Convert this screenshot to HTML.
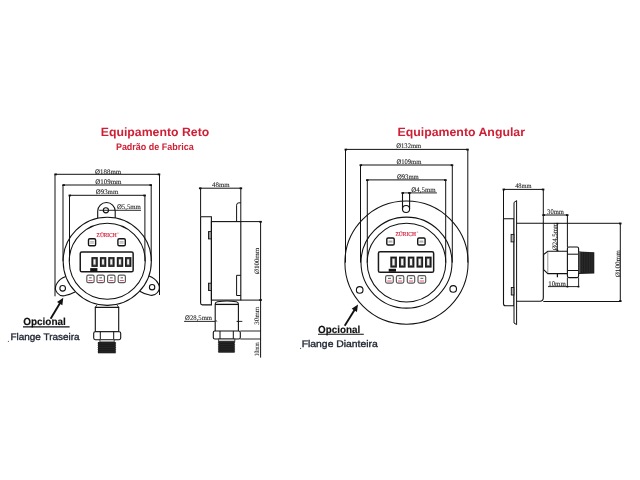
<!DOCTYPE html>
<html><head><meta charset="utf-8"><style>
html,body{margin:0;padding:0;background:#fff;}
svg{display:block;will-change:transform;text-rendering:geometricPrecision;filter:blur(0.25px);}
</style></head><body>
<svg width="640" height="480" viewBox="0 0 640 480">
<rect width="640" height="480" fill="#fff"/>
<text x="100.75" y="136" font-family="'Liberation Sans', sans-serif" font-size="12" fill="#cf1f35" font-weight="bold" text-anchor="start" textLength="108.5" lengthAdjust="spacingAndGlyphs" >Equipamento Reto</text>
<text x="115.9" y="150.4" font-family="'Liberation Sans', sans-serif" font-size="9.6" fill="#cf1f35" font-weight="bold" text-anchor="start" textLength="77.8" lengthAdjust="spacingAndGlyphs" >Padrão de Fabrica</text>
<text x="397.5" y="136.25" font-family="'Liberation Sans', sans-serif" font-size="12" fill="#cf1f35" font-weight="bold" text-anchor="start" textLength="127.5" lengthAdjust="spacingAndGlyphs" >Equipamento Angular</text>
<text x="23.2" y="324.9" font-family="'Liberation Sans', sans-serif" font-size="10.3" fill="#111" font-weight="bold" text-anchor="start" textLength="42.6" lengthAdjust="spacingAndGlyphs" stroke="#111" stroke-width="0.15">Opcional</text>
<line x1="23" y1="326.9" x2="69.6" y2="326.9" stroke="#111" stroke-width="1.1"/>
<text x="10.5" y="339.9" font-family="'Liberation Sans', sans-serif" font-size="9.6" fill="#1f2433" font-weight="normal" text-anchor="start" textLength="69" lengthAdjust="spacingAndGlyphs" stroke="#1f2433" stroke-width="0.35">Flange Traseira</text>
<text x="318.1" y="332.8" font-family="'Liberation Sans', sans-serif" font-size="10.3" fill="#111" font-weight="bold" text-anchor="start" textLength="42.2" lengthAdjust="spacingAndGlyphs" stroke="#111" stroke-width="0.15">Opcional</text>
<line x1="318" y1="334.2" x2="363.8" y2="334.2" stroke="#111" stroke-width="1.1"/>
<text x="301.7" y="346.9" font-family="'Liberation Sans', sans-serif" font-size="9.6" fill="#1f2433" font-weight="normal" text-anchor="start" textLength="76.1" lengthAdjust="spacingAndGlyphs" stroke="#1f2433" stroke-width="0.35">Flange Dianteira</text>
<circle cx="8.4" cy="341.3" r="0.6" fill="#555"/>
<circle cx="300.6" cy="348.4" r="0.6" fill="#555"/>
<line x1="50.6" y1="318.8" x2="60.20586278935174" y2="302.8406531609983" stroke="#111" stroke-width="1.9"/>
<path d="M63.30 297.70 L62.35 305.30 L57.03 302.10 Z" fill="#111"/>
<line x1="344.7" y1="325.8" x2="354.83285950356554" y2="309.4960004980224" stroke="#111" stroke-width="1.9"/>
<path d="M358.00 304.40 L356.94 311.98 L351.67 308.71 Z" fill="#111"/>
<line x1="55.0" y1="174.3" x2="159.5" y2="174.3" stroke="#111" stroke-width="1"/>
<line x1="55.0" y1="174.3" x2="55.0" y2="296.3" stroke="#111" stroke-width="1"/>
<line x1="159.5" y1="174.2" x2="159.5" y2="295.0" stroke="#111" stroke-width="1"/>
<rect x="54.34" y="173.5" width="2.52" height="1.8" fill="#111"/>
<rect x="157.74" y="173.5" width="2.52" height="1.8" fill="#111"/>
<line x1="63.0" y1="185.0" x2="151.2" y2="185.0" stroke="#111" stroke-width="1"/>
<line x1="63.0" y1="185.0" x2="63.0" y2="261.3" stroke="#111" stroke-width="1"/>
<line x1="151.2" y1="185.0" x2="151.2" y2="261.3" stroke="#111" stroke-width="1"/>
<rect x="62.34" y="184.2" width="2.52" height="1.8" fill="#111"/>
<rect x="149.44" y="184.2" width="2.52" height="1.8" fill="#111"/>
<line x1="69.5" y1="195.3" x2="144.9" y2="195.3" stroke="#111" stroke-width="1"/>
<line x1="69.5" y1="195.3" x2="69.5" y2="261.3" stroke="#111" stroke-width="1"/>
<line x1="144.9" y1="195.3" x2="144.9" y2="261.3" stroke="#111" stroke-width="1"/>
<rect x="68.53999999999999" y="194.6" width="2.52" height="1.8" fill="#111"/>
<rect x="143.34" y="194.6" width="2.52" height="1.8" fill="#111"/>
<text x="95.1" y="173.6" font-family="'Liberation Serif', serif" font-size="6.9959999999999996" fill="#222" font-weight="normal" text-anchor="start" textLength="26" lengthAdjust="spacingAndGlyphs"  stroke="#222" stroke-width="0.08">Ø188mm</text>
<text x="95.3" y="183.9" font-family="'Liberation Serif', serif" font-size="6.9959999999999996" fill="#222" font-weight="normal" text-anchor="start" textLength="26.2" lengthAdjust="spacingAndGlyphs"  stroke="#222" stroke-width="0.08">Ø109mm</text>
<text x="95.8" y="194.2" font-family="'Liberation Serif', serif" font-size="6.9959999999999996" fill="#222" font-weight="normal" text-anchor="start" textLength="22.5" lengthAdjust="spacingAndGlyphs"  stroke="#222" stroke-width="0.08">Ø93mm</text>
<text x="116.9" y="209.4" font-family="'Liberation Serif', serif" font-size="6.9959999999999996" fill="#222" font-weight="normal" text-anchor="start" textLength="24" lengthAdjust="spacingAndGlyphs"  stroke="#222" stroke-width="0.08">Ø5,5mm</text>
<line x1="99.2" y1="210.3" x2="141" y2="210.3" stroke="#111" stroke-width="0.9"/>
<path d="M97.7 218.25 L97.7 211.3 A8.75 8.75 0 0 1 115.2 211.3 L115.2 217.92" stroke="#111" stroke-width="1.1" fill="none" />
<circle cx="105.9" cy="210.3" r="2.6" stroke="#111" stroke-width="1.1" fill="none"/>
<circle cx="107.25" cy="261.3" r="44.1" stroke="#111" stroke-width="1.05" fill="none"/>
<circle cx="107.25" cy="261.3" r="38.0" stroke="#111" stroke-width="1.05" fill="none"/>
<path d="M65.8 276.5 Q59.5 278.5 56.55 284.1 A7.8 7.8 0 0 0 65.97 295.33 Q70.5 294.2 75.0 291.9" stroke="#111" stroke-width="1.1" fill="none" />
<circle cx="62.67" cy="288.3" r="2.8" stroke="#111" stroke-width="1.1" fill="none"/>
<path d="M149.0 276.1 Q155 278 158.25 283.6 A7.8 7.8 0 0 1 148.83 294.83 Q144 293.8 139.8 291.2" stroke="#111" stroke-width="1.1" fill="none" />
<circle cx="152.1" cy="287.2" r="2.7" stroke="#111" stroke-width="1.1" fill="none"/>
<text x="96.6" y="236.9" font-family="'Liberation Serif', serif" font-size="6.0" fill="#d42a48" font-weight="normal" text-anchor="start" textLength="20.0" lengthAdjust="spacingAndGlyphs" stroke="#d42a48" stroke-width="0.2">ZÜRICH</text>
<text x="116.89999999999999" y="234.3" font-family="'Liberation Serif', serif" font-size="3.0" fill="#d42a48" font-weight="normal" text-anchor="start" >®</text>
<rect x="88.5" y="238.79999999999998" width="7.1" height="6.900000000000011" rx="1.3" stroke="#151515" stroke-width="1.4" fill="#fff"/>
<rect x="90.2" y="241.42" width="3.7" height="1.0" fill="#8a8a8a"/>
<rect x="90.0" y="243.246" width="4.1" height="0.5" fill="#999"/>
<rect x="117.9" y="238.79999999999998" width="7.399999999999997" height="6.900000000000011" rx="1.3" stroke="#151515" stroke-width="1.4" fill="#fff"/>
<rect x="119.60000000000001" y="241.42" width="3.9999999999999973" height="1.0" fill="#8a8a8a"/>
<rect x="119.4" y="243.246" width="4.399999999999997" height="0.5" fill="#999"/>
<rect x="80.25" y="251.95" width="52.900000000000006" height="19.900000000000034" rx="1.6" stroke="#1a1a1a" stroke-width="1.5" fill="#fff"/>
<rect x="91.4" y="257.1" width="6.4" height="9.799999999999955" fill="#1c1c1c"/>
<rect x="93.0" y="258.6" width="3.2" height="6.7999999999999545" fill="#6a6a6a"/>
<rect x="93.60000000000001" y="259.40000000000003" width="1.8000000000000007" height="4.999999999999955" fill="#f4f4f4"/>
<rect x="99.9" y="257.1" width="6.4" height="9.799999999999955" fill="#1c1c1c"/>
<rect x="101.5" y="258.6" width="3.2" height="6.7999999999999545" fill="#6a6a6a"/>
<rect x="102.10000000000001" y="259.40000000000003" width="1.8000000000000007" height="4.999999999999955" fill="#f4f4f4"/>
<rect x="108.2" y="257.1" width="6.4" height="9.799999999999955" fill="#1c1c1c"/>
<rect x="109.8" y="258.6" width="3.2" height="6.7999999999999545" fill="#6a6a6a"/>
<rect x="110.4" y="259.40000000000003" width="1.8000000000000007" height="4.999999999999955" fill="#f4f4f4"/>
<rect x="116.8" y="257.1" width="6.4" height="9.799999999999955" fill="#1c1c1c"/>
<rect x="118.39999999999999" y="258.6" width="3.2" height="6.7999999999999545" fill="#6a6a6a"/>
<rect x="119.0" y="259.40000000000003" width="1.8000000000000007" height="4.999999999999955" fill="#f4f4f4"/>
<rect x="125.0" y="257.1" width="6.4" height="9.799999999999955" fill="#1c1c1c"/>
<rect x="126.6" y="258.6" width="3.2" height="6.7999999999999545" fill="#6a6a6a"/>
<rect x="127.2" y="259.40000000000003" width="1.8000000000000007" height="4.999999999999955" fill="#f4f4f4"/>
<rect x="90.2" y="268.1" width="7.200000000000003" height="3.5" fill="#111"/>
<rect x="86.8" y="275.20000000000005" width="7.3" height="7.4999999999999885" rx="1.5" stroke="#5a5a5a" stroke-width="1.2" fill="#fff"/>
<rect x="89.2" y="277.384" width="2.5" height="0.9" fill="#444"/>
<rect x="88.4" y="280.168" width="4.1" height="0.8" fill="#e0304f"/>
<rect x="97.0" y="275.20000000000005" width="7.399999999999994" height="7.4999999999999885" rx="1.5" stroke="#5a5a5a" stroke-width="1.2" fill="#fff"/>
<rect x="99.4" y="277.384" width="2.5999999999999943" height="0.9" fill="#444"/>
<rect x="98.60000000000001" y="280.168" width="4.199999999999994" height="0.8" fill="#e0304f"/>
<rect x="107.6" y="275.20000000000005" width="7.399999999999994" height="7.4999999999999885" rx="1.5" stroke="#5a5a5a" stroke-width="1.2" fill="#fff"/>
<rect x="110.0" y="277.384" width="2.5999999999999943" height="0.9" fill="#444"/>
<rect x="109.2" y="280.168" width="4.199999999999994" height="0.8" fill="#e0304f"/>
<rect x="118.19999999999999" y="275.20000000000005" width="7.2000000000000055" height="7.4999999999999885" rx="1.5" stroke="#5a5a5a" stroke-width="1.2" fill="#fff"/>
<rect x="120.6" y="277.384" width="2.4000000000000057" height="0.9" fill="#444"/>
<rect x="119.8" y="280.168" width="4.000000000000005" height="0.8" fill="#e0304f"/>
<path d="M96.8 305.2 L95.3 307.4 L118.7 307.4 L117.2 305.2" stroke="#111" stroke-width="1.0" fill="none" />
<rect x="95.3" y="307.4" width="23.4" height="24.3" rx="0" stroke="#111" stroke-width="1.1" fill="#fff"/>
<rect x="93.7" y="331.7" width="27" height="8" rx="1.6" stroke="#111" stroke-width="1.1" fill="#fff"/>
<line x1="100.3" y1="331.7" x2="100.3" y2="339.7" stroke="#111" stroke-width="1"/>
<line x1="113.7" y1="331.7" x2="113.7" y2="339.7" stroke="#111" stroke-width="1"/>
<rect x="99.9" y="339.7" width="14.3" height="2.3" rx="0" stroke="#333" stroke-width="0.9" fill="#e8e8e8"/>
<rect x="98" y="342" width="17.7" height="11.3" fill="#1b1b1b"/>
<line x1="97.6" y1="343.1" x2="116.1" y2="343.1" stroke="#2a2a2a" stroke-width="0.8"/>
<line x1="97.6" y1="345.3" x2="116.1" y2="345.3" stroke="#2a2a2a" stroke-width="0.8"/>
<line x1="97.6" y1="347.5" x2="116.1" y2="347.5" stroke="#2a2a2a" stroke-width="0.8"/>
<line x1="97.6" y1="349.70000000000005" x2="116.1" y2="349.70000000000005" stroke="#2a2a2a" stroke-width="0.8"/>
<line x1="97.6" y1="351.90000000000003" x2="116.1" y2="351.90000000000003" stroke="#2a2a2a" stroke-width="0.8"/>
<line x1="199.9" y1="188.2" x2="241.3" y2="188.2" stroke="#111" stroke-width="1"/>
<rect x="198.94" y="187.4" width="2.52" height="1.8" fill="#111"/>
<rect x="239.64000000000001" y="187.4" width="2.52" height="1.8" fill="#111"/>
<text x="220.8" y="186.9" font-family="'Liberation Serif', serif" font-size="6.9959999999999996" fill="#222" font-weight="normal" text-anchor="middle" textLength="17.5" lengthAdjust="spacingAndGlyphs"  stroke="#222" stroke-width="0.08">48mm</text>
<line x1="200.6" y1="188.2" x2="200.6" y2="216.5" stroke="#111" stroke-width="1"/>
<path d="M200.6 216.7 L211.4 216.7 L211.4 304.9 L202.4 304.9 Q200.6 304.9 200.6 303.1 Z" stroke="#111" stroke-width="1.1" fill="none" />
<rect x="211.4" y="221.6" width="29.4" height="78.5" rx="0" stroke="#111" stroke-width="1.1" fill="none"/>
<line x1="240.8" y1="188.2" x2="240.8" y2="221.6" stroke="#111" stroke-width="1"/>
<path d="M236.6 221.6 L236.6 205.2 Q236.6 202.8 238.9 202.8 L240.8 202.8" stroke="#111" stroke-width="1.0" fill="none" />
<path d="M240.8 275.3 L236.6 275.3 L236.6 295.5 L240.8 295.5" stroke="#111" stroke-width="1.0" fill="none" />
<rect x="208.5" y="231.6" width="2.9" height="7.3" rx="0" stroke="#111" stroke-width="0.9" fill="#999"/>
<rect x="208.5" y="283.2" width="2.9" height="7.3" rx="0" stroke="#111" stroke-width="0.9" fill="#999"/>
<line x1="240.8" y1="221.6" x2="261" y2="221.6" stroke="#111" stroke-width="1"/>
<line x1="240.8" y1="300.1" x2="261" y2="300.1" stroke="#111" stroke-width="1"/>
<line x1="260.6" y1="221.6" x2="260.6" y2="357.6" stroke="#111" stroke-width="1"/>
<rect x="259.34000000000003" y="220.9" width="2.52" height="1.8" fill="#111"/>
<rect x="259.34000000000003" y="299.1" width="2.52" height="1.8" fill="#111"/>
<text x="259.3" y="274.1" font-family="'Liberation Serif', serif" font-size="6.784000000000001" fill="#222" font-weight="normal" text-anchor="start" textLength="26.3" lengthAdjust="spacingAndGlyphs" transform="rotate(-90 259.3 274.1)"  stroke="#222" stroke-width="0.08">Ø100mm</text>
<path d="M215.2 331 L215.2 304 Q215.2 302.3 217.5 301.8 Q227 300.2 236.3 301.8 Q238.4 302.3 238.4 304 L238.4 331" stroke="#111" stroke-width="1.1" fill="#fff" />
<line x1="215.2" y1="304.4" x2="238.4" y2="304.4" stroke="#111" stroke-width="1.3"/>
<rect x="213.3" y="331" width="27" height="8" rx="1.6" stroke="#111" stroke-width="1.1" fill="#fff"/>
<line x1="220.0" y1="331" x2="220.0" y2="339" stroke="#111" stroke-width="1"/>
<line x1="233.3" y1="331" x2="233.3" y2="339" stroke="#111" stroke-width="1"/>
<rect x="218.6" y="339" width="16.2" height="2.3" rx="0" stroke="#333" stroke-width="0.9" fill="#e8e8e8"/>
<rect x="218.3" y="341.3" width="16.4" height="11.4" fill="#1b1b1b"/>
<line x1="217.9" y1="342.4" x2="235.1" y2="342.4" stroke="#2a2a2a" stroke-width="0.8"/>
<line x1="217.9" y1="344.59999999999997" x2="235.1" y2="344.59999999999997" stroke="#2a2a2a" stroke-width="0.8"/>
<line x1="217.9" y1="346.79999999999995" x2="235.1" y2="346.79999999999995" stroke="#2a2a2a" stroke-width="0.8"/>
<line x1="217.9" y1="349.0" x2="235.1" y2="349.0" stroke="#2a2a2a" stroke-width="0.8"/>
<line x1="217.9" y1="351.2" x2="235.1" y2="351.2" stroke="#2a2a2a" stroke-width="0.8"/>
<line x1="184.1" y1="321.4" x2="215.2" y2="321.4" stroke="#111" stroke-width="0.9"/>
<line x1="238.4" y1="321.4" x2="242.3" y2="321.4" stroke="#111" stroke-width="0.9"/>
<line x1="215.6" y1="320.4" x2="217.2" y2="321.4" stroke="#111" stroke-width="0.8"/>
<line x1="238" y1="321.4" x2="236.6" y2="321.4" stroke="#111" stroke-width="1.0"/>
<text x="185.1" y="319.7" font-family="'Liberation Serif', serif" font-size="6.9959999999999996" fill="#222" font-weight="normal" text-anchor="start" textLength="27" lengthAdjust="spacingAndGlyphs"  stroke="#222" stroke-width="0.08">Ø28,5mm</text>
<line x1="240.3" y1="331" x2="261" y2="331" stroke="#111" stroke-width="0.9"/>
<line x1="240.3" y1="339" x2="261" y2="339" stroke="#111" stroke-width="0.9"/>
<text x="259.1" y="324.8" font-family="'Liberation Serif', serif" font-size="6.784000000000001" fill="#222" font-weight="normal" text-anchor="start" textLength="18.2" lengthAdjust="spacingAndGlyphs" transform="rotate(-90 259.1 324.8)"  stroke="#222" stroke-width="0.08">30mm</text>
<text x="259.1" y="356.2" font-family="'Liberation Serif', serif" font-size="6.784000000000001" fill="#222" font-weight="normal" text-anchor="start" textLength="13.9" lengthAdjust="spacingAndGlyphs" transform="rotate(-90 259.1 356.2)"  stroke="#222" stroke-width="0.08">10mm</text>
<line x1="345.5" y1="149.4" x2="467.8" y2="149.4" stroke="#111" stroke-width="1"/>
<line x1="345.5" y1="149.4" x2="345.5" y2="262.6" stroke="#111" stroke-width="1"/>
<line x1="467.8" y1="149.4" x2="467.8" y2="262.6" stroke="#111" stroke-width="1"/>
<rect x="344.54" y="148.7" width="2.52" height="1.8" fill="#111"/>
<rect x="466.24" y="148.7" width="2.52" height="1.8" fill="#111"/>
<line x1="360.5" y1="165" x2="452.3" y2="165" stroke="#111" stroke-width="1"/>
<line x1="360.5" y1="165" x2="360.5" y2="262.6" stroke="#111" stroke-width="1"/>
<line x1="452.3" y1="165" x2="452.3" y2="262.6" stroke="#111" stroke-width="1"/>
<rect x="359.54" y="164.29999999999998" width="2.52" height="1.8" fill="#111"/>
<rect x="450.74" y="164.29999999999998" width="2.52" height="1.8" fill="#111"/>
<line x1="367.3" y1="179.9" x2="445.7" y2="179.9" stroke="#111" stroke-width="1"/>
<line x1="367.3" y1="179.9" x2="367.3" y2="262.6" stroke="#111" stroke-width="1"/>
<line x1="445.7" y1="179.9" x2="445.7" y2="262.6" stroke="#111" stroke-width="1"/>
<rect x="366.04" y="179.2" width="2.52" height="1.8" fill="#111"/>
<rect x="444.14" y="179.2" width="2.52" height="1.8" fill="#111"/>
<text x="396.25" y="148.1" font-family="'Liberation Serif', serif" font-size="6.9959999999999996" fill="#222" font-weight="normal" text-anchor="start" textLength="25" lengthAdjust="spacingAndGlyphs"  stroke="#222" stroke-width="0.08">Ø132mm</text>
<text x="396.4" y="163.8" font-family="'Liberation Serif', serif" font-size="6.9959999999999996" fill="#222" font-weight="normal" text-anchor="start" textLength="25" lengthAdjust="spacingAndGlyphs"  stroke="#222" stroke-width="0.08">Ø109mm</text>
<text x="396.9" y="178.8" font-family="'Liberation Serif', serif" font-size="6.9959999999999996" fill="#222" font-weight="normal" text-anchor="start" textLength="21.9" lengthAdjust="spacingAndGlyphs"  stroke="#222" stroke-width="0.08">Ø93mm</text>
<text x="411.3" y="191.8" font-family="'Liberation Serif', serif" font-size="6.9959999999999996" fill="#222" font-weight="normal" text-anchor="start" textLength="24.3" lengthAdjust="spacingAndGlyphs"  stroke="#222" stroke-width="0.08">Ø4,5mm</text>
<line x1="402.5" y1="192.9" x2="436.9" y2="192.9" stroke="#111" stroke-width="0.9"/>
<rect x="401.44" y="192.1" width="2.52" height="1.8" fill="#111"/>
<rect x="408.14" y="192.1" width="2.52" height="1.8" fill="#111"/>
<circle cx="406.5" cy="262.6" r="61.6" stroke="#111" stroke-width="1.05" fill="none"/>
<circle cx="406.5" cy="262.6" r="45.5" stroke="#111" stroke-width="1.05" fill="none"/>
<circle cx="406.5" cy="262.6" r="39.3" stroke="#111" stroke-width="1.05" fill="none"/>
<line x1="402.5" y1="192.9" x2="402.5" y2="209" stroke="#111" stroke-width="1.1"/>
<line x1="409.6" y1="192.9" x2="409.6" y2="209" stroke="#111" stroke-width="1.1"/>
<circle cx="406.05" cy="209" r="3.55" stroke="#111" stroke-width="1.1" fill="none"/>
<circle cx="359.7" cy="289.9" r="3.3" stroke="#111" stroke-width="1.1" fill="none"/>
<circle cx="453.2" cy="288.9" r="3.3" stroke="#111" stroke-width="1.1" fill="none"/>
<text x="395.5" y="235.75" font-family="'Liberation Serif', serif" font-size="6.0" fill="#d42a48" font-weight="normal" text-anchor="start" textLength="20.5" lengthAdjust="spacingAndGlyphs" stroke="#d42a48" stroke-width="0.2">ZÜRICH</text>
<text x="416.3" y="233.15" font-family="'Liberation Serif', serif" font-size="3.0" fill="#d42a48" font-weight="normal" text-anchor="start" >®</text>
<rect x="386.8" y="238.0" width="7.399999999999954" height="6.999999999999977" rx="1.3" stroke="#151515" stroke-width="1.4" fill="#fff"/>
<rect x="388.5" y="240.66" width="3.9999999999999547" height="1.0" fill="#8a8a8a"/>
<rect x="388.3" y="242.508" width="4.399999999999954" height="0.5" fill="#999"/>
<rect x="417.7" y="238.0" width="7.400000000000011" height="6.999999999999977" rx="1.3" stroke="#151515" stroke-width="1.4" fill="#fff"/>
<rect x="419.4" y="240.66" width="4.0000000000000115" height="1.0" fill="#8a8a8a"/>
<rect x="419.2" y="242.508" width="4.400000000000011" height="0.5" fill="#999"/>
<rect x="378.45" y="251.65" width="55.19999999999999" height="20.700000000000017" rx="1.6" stroke="#1a1a1a" stroke-width="1.5" fill="#fff"/>
<rect x="390.3" y="256.6" width="6.6" height="11.0" fill="#1c1c1c"/>
<rect x="391.90000000000003" y="258.1" width="3.3999999999999995" height="8.0" fill="#6a6a6a"/>
<rect x="392.5" y="258.90000000000003" width="2.0" height="6.2" fill="#f4f4f4"/>
<rect x="399" y="256.6" width="6.6" height="11.0" fill="#1c1c1c"/>
<rect x="400.6" y="258.1" width="3.3999999999999995" height="8.0" fill="#6a6a6a"/>
<rect x="401.2" y="258.90000000000003" width="2.0" height="6.2" fill="#f4f4f4"/>
<rect x="407.8" y="256.6" width="6.6" height="11.0" fill="#1c1c1c"/>
<rect x="409.40000000000003" y="258.1" width="3.3999999999999995" height="8.0" fill="#6a6a6a"/>
<rect x="410.0" y="258.90000000000003" width="2.0" height="6.2" fill="#f4f4f4"/>
<rect x="416.5" y="256.6" width="6.6" height="11.0" fill="#1c1c1c"/>
<rect x="418.1" y="258.1" width="3.3999999999999995" height="8.0" fill="#6a6a6a"/>
<rect x="418.7" y="258.90000000000003" width="2.0" height="6.2" fill="#f4f4f4"/>
<rect x="425.0" y="256.6" width="6.6" height="11.0" fill="#1c1c1c"/>
<rect x="426.6" y="258.1" width="3.3999999999999995" height="8.0" fill="#6a6a6a"/>
<rect x="427.2" y="258.90000000000003" width="2.0" height="6.2" fill="#f4f4f4"/>
<rect x="388.7" y="268.8" width="7.300000000000011" height="2.8999999999999773" fill="#111"/>
<rect x="385.6" y="275.70000000000005" width="7.699999999999977" height="7.399999999999966" rx="1.5" stroke="#5a5a5a" stroke-width="1.2" fill="#fff"/>
<rect x="388.0" y="277.85200000000003" width="2.8999999999999773" height="0.9" fill="#444"/>
<rect x="387.2" y="280.604" width="4.499999999999977" height="0.8" fill="#e0304f"/>
<rect x="396.40000000000003" y="275.70000000000005" width="7.399999999999966" height="7.399999999999966" rx="1.5" stroke="#5a5a5a" stroke-width="1.2" fill="#fff"/>
<rect x="398.8" y="277.85200000000003" width="2.599999999999966" height="0.9" fill="#444"/>
<rect x="398.0" y="280.604" width="4.1999999999999655" height="0.8" fill="#e0304f"/>
<rect x="407.3" y="275.70000000000005" width="7.400000000000023" height="7.399999999999966" rx="1.5" stroke="#5a5a5a" stroke-width="1.2" fill="#fff"/>
<rect x="409.7" y="277.85200000000003" width="2.6000000000000227" height="0.9" fill="#444"/>
<rect x="408.9" y="280.604" width="4.200000000000022" height="0.8" fill="#e0304f"/>
<rect x="418.0" y="275.70000000000005" width="7.700000000000034" height="7.399999999999966" rx="1.5" stroke="#5a5a5a" stroke-width="1.2" fill="#fff"/>
<rect x="420.4" y="277.85200000000003" width="2.900000000000034" height="0.9" fill="#444"/>
<rect x="419.59999999999997" y="280.604" width="4.500000000000034" height="0.8" fill="#e0304f"/>
<line x1="503.5" y1="189.4" x2="543.4" y2="189.4" stroke="#111" stroke-width="1"/>
<rect x="502.54" y="188.6" width="2.52" height="1.8" fill="#111"/>
<rect x="541.84" y="188.6" width="2.52" height="1.8" fill="#111"/>
<text x="523.4" y="188.1" font-family="'Liberation Serif', serif" font-size="6.9959999999999996" fill="#222" font-weight="normal" text-anchor="middle" textLength="16.5" lengthAdjust="spacingAndGlyphs"  stroke="#222" stroke-width="0.08">48mm</text>
<line x1="503.5" y1="189.4" x2="503.5" y2="218.8" stroke="#111" stroke-width="1"/>
<path d="M503.5 218.8 L514 218.8 L514 305.8 L505.5 305.8 Q503.5 305.8 503.5 303.8 Z" stroke="#111" stroke-width="1.1" fill="none" />
<path d="M514 202.5 L516.6 200.6 L516.6 324.6 L514 323.0 Z" stroke="#111" stroke-width="1.0" fill="#fff" />
<path d="M516.6 223.3 L543.3 223.3 L543.3 297.8 Q543.3 301.3 539.8 301.3 L516.6 301.3" stroke="#111" stroke-width="1.1" fill="none" />
<line x1="543.3" y1="189.4" x2="543.3" y2="223.3" stroke="#111" stroke-width="1"/>
<rect x="511.1" y="234.4" width="2.8" height="7.5" rx="0" stroke="#111" stroke-width="0.9" fill="#bbb"/>
<rect x="511.3" y="287.5" width="2.6" height="7.5" rx="0" stroke="#111" stroke-width="0.9" fill="#bbb"/>
<line x1="543.3" y1="223.3" x2="620.5" y2="223.3" stroke="#111" stroke-width="1"/>
<line x1="543.3" y1="301.5" x2="620.5" y2="301.5" stroke="#111" stroke-width="1"/>
<line x1="620.3" y1="223.3" x2="620.3" y2="301.3" stroke="#111" stroke-width="1"/>
<rect x="619.04" y="222.6" width="2.52" height="1.8" fill="#111"/>
<rect x="619.04" y="300.20000000000005" width="2.52" height="1.8" fill="#111"/>
<text x="619.6" y="277.3" font-family="'Liberation Serif', serif" font-size="6.784000000000001" fill="#222" font-weight="normal" text-anchor="start" textLength="27" lengthAdjust="spacingAndGlyphs" transform="rotate(-90 619.6 277.3)"  stroke="#222" stroke-width="0.08">Ø100mm</text>
<line x1="543.3" y1="215.0" x2="567.5" y2="215.0" stroke="#111" stroke-width="1"/>
<rect x="542.34" y="214.2" width="2.52" height="1.8" fill="#111"/>
<rect x="565.94" y="214.2" width="2.52" height="1.8" fill="#111"/>
<text x="547.1" y="213.9" font-family="'Liberation Serif', serif" font-size="6.9959999999999996" fill="#222" font-weight="normal" text-anchor="start" textLength="16.8" lengthAdjust="spacingAndGlyphs"  stroke="#222" stroke-width="0.08">30mm</text>
<line x1="567.4" y1="215.0" x2="567.4" y2="247" stroke="#111" stroke-width="1"/>
<line x1="557.4" y1="223.3" x2="557.4" y2="251.3" stroke="#111" stroke-width="0.9"/>
<rect x="556.42" y="222.9" width="1.9599999999999997" height="1.4" fill="#111"/>
<rect x="556.42" y="249.9" width="1.9599999999999997" height="1.4" fill="#111"/>
<line x1="557.4" y1="273.6" x2="557.4" y2="277.2" stroke="#111" stroke-width="1.2"/>
<text x="557.0" y="250.2" font-family="'Liberation Serif', serif" font-size="6.784000000000001" fill="#222" font-weight="normal" text-anchor="start" textLength="27.5" lengthAdjust="spacingAndGlyphs" transform="rotate(-90 557.0 250.2)"  stroke="#222" stroke-width="0.08">Ø24,5mm</text>
<path d="M567.2 251.3 L547.8 251.3 L543.6 254.5 L543.6 269.6 L547.8 273.6 L567.2 273.6" stroke="#111" stroke-width="1.1" fill="#fff" />
<line x1="547.8" y1="251.8" x2="547.8" y2="273.1" stroke="#777" stroke-width="0.8"/>
<rect x="567.4" y="247" width="11.2" height="30.6" rx="1.5" stroke="#111" stroke-width="1.1" fill="#fff"/>
<line x1="567.4" y1="254.2" x2="578.6" y2="254.2" stroke="#111" stroke-width="1"/>
<line x1="567.4" y1="270.5" x2="578.6" y2="270.5" stroke="#111" stroke-width="1"/>
<path d="M578.6 251.5 L594.3 252.2 L594.3 273.5 L578.6 274.0 Z" fill="#1b1b1b"/>
<rect x="578.6" y="251.6" width="1.8" height="21.4" fill="#555"/>
<line x1="581.0" y1="252" x2="581.0" y2="272.6" stroke="#363636" stroke-width="0.6"/>
<line x1="582.7" y1="252" x2="582.7" y2="272.6" stroke="#363636" stroke-width="0.6"/>
<line x1="584.4" y1="252" x2="584.4" y2="272.6" stroke="#363636" stroke-width="0.6"/>
<line x1="586.1" y1="252" x2="586.1" y2="272.6" stroke="#363636" stroke-width="0.6"/>
<line x1="587.8" y1="252" x2="587.8" y2="272.6" stroke="#363636" stroke-width="0.6"/>
<line x1="589.5" y1="252" x2="589.5" y2="272.6" stroke="#363636" stroke-width="0.6"/>
<line x1="591.2" y1="252" x2="591.2" y2="272.6" stroke="#363636" stroke-width="0.6"/>
<line x1="592.9" y1="252" x2="592.9" y2="272.6" stroke="#363636" stroke-width="0.6"/>
<line x1="567.4" y1="277.6" x2="567.4" y2="287.3" stroke="#111" stroke-width="0.9"/>
<line x1="578.6" y1="277.6" x2="578.6" y2="287.3" stroke="#111" stroke-width="0.9"/>
<line x1="548" y1="286.6" x2="578.6" y2="286.6" stroke="#111" stroke-width="0.9"/>
<rect x="566.42" y="285.90000000000003" width="1.9599999999999997" height="1.4" fill="#111"/>
<rect x="577.42" y="285.90000000000003" width="1.9599999999999997" height="1.4" fill="#111"/>
<text x="548.2" y="285.6" font-family="'Liberation Serif', serif" font-size="6.9959999999999996" fill="#222" font-weight="normal" text-anchor="start" textLength="17.6" lengthAdjust="spacingAndGlyphs"  stroke="#222" stroke-width="0.08">10mm</text>
</svg>
</body></html>
